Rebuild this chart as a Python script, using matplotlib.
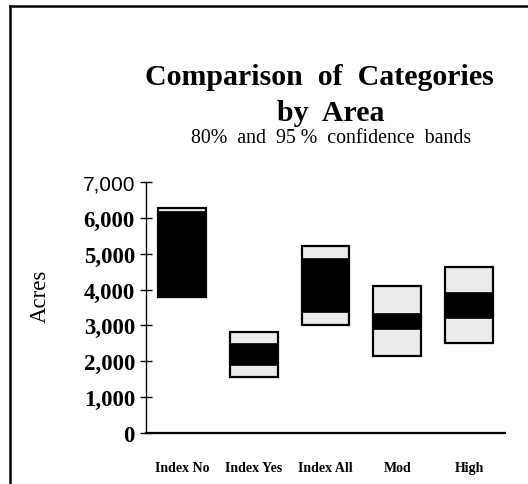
import numpy as np
import matplotlib
matplotlib.use('Agg')
import matplotlib.pyplot as plt
from matplotlib.lines import Line2D

# category bands (acres)
categories = ['Index No', 'Index Yes', 'Index All', 'Mod', 'High']
low95 = [3780, 1560, 3010, 2140, 2510]
high95 = [6270, 2810, 5210, 4090, 4620]
low80 = [3830, 1890, 3370, 2900, 3200]
high80 = [6200, 2510, 4870, 3340, 3930]
yticks = [0, 1000, 2000, 3000, 4000, 5000, 6000, 7000]

plt.rcParams['font.family'] = 'Liberation Serif'

W, H = 528, 485
fig = plt.figure(figsize=(W / 100, H / 100), dpi=100)
ax = fig.add_axes([146 / W, 1 - 434 / H, 359 / W, 251 / H])

x = np.arange(len(categories))
lo95 = np.array(low95)
hi95 = np.array(high95)
lo80 = np.array(low80)
hi80 = np.array(high80)

# 95% band (light) then 80% band (black) on top
ax.bar(x, hi95 - lo95, bottom=lo95, width=0.667, color='#ebebeb',
       edgecolor='black', linewidth=1.6, zorder=2)
ax.bar(x, hi80 - lo80, bottom=lo80, width=0.667, color='black',
       edgecolor='black', linewidth=0.5, zorder=3)

ax.set_xlim(-0.5, 4.5)
ax.set_ylim(0, 7000)

ax.spines['top'].set_visible(False)
ax.spines['right'].set_visible(False)
ax.spines['left'].set_linewidth(1.0)
ax.spines['bottom'].set_linewidth(1.6)

ax.set_yticks(yticks)
ax.set_yticklabels([f'{v:,}' for v in yticks], fontsize=16.5, fontweight='bold')
ax.tick_params(axis='y', direction='inout', length=8, width=1.0, pad=4)
ylabels = ax.get_yticklabels()
ylabels[-1].set_fontfamily('Liberation Sans')
ylabels[-1].set_fontweight('normal')
ylabels[-1].set_fontsize(15)

ax.set_xticks(x)
ax.set_xticklabels(categories, fontsize=10, fontweight='bold')
ax.tick_params(axis='x', length=0, pad=20)

ax.set_ylabel('Acres', fontsize=16.5)
ax.yaxis.set_label_coords(-0.265, 0.55)

# titles
fig.text(319 / W, 1 - 85 / H, 'Comparison  of  Categories', ha='center',
         va='baseline', fontsize=21.5, fontweight='bold')
fig.text(331 / W, 1 - 121 / H, 'by  Area', ha='center', va='baseline',
         fontsize=21.5, fontweight='bold')
fig.text(331 / W, 1 - 143 / H, '80%  and  95 %  confidence  bands',
         ha='center', va='baseline', fontsize=14.3)

# page frame (left and top edges)
fig.add_artist(Line2D([10 / W, 10 / W], [0, 1 - 7 / H], color='black',
                      linewidth=1.8, transform=fig.transFigure))
fig.add_artist(Line2D([10 / W, 1], [1 - 7 / H, 1 - 7 / H], color='black',
                      linewidth=1.8, transform=fig.transFigure))

fig.savefig('out.png', dpi=100)
